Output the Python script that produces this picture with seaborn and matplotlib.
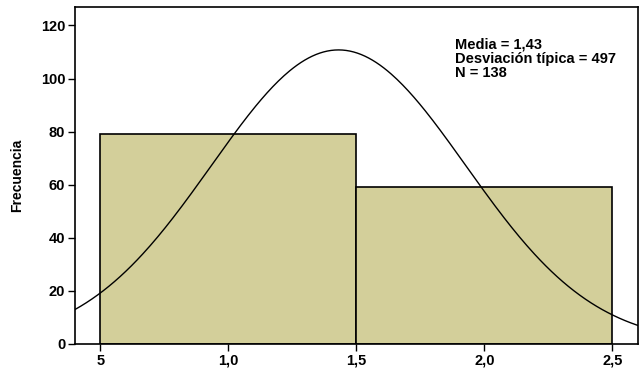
import matplotlib
matplotlib.use("Agg")
import matplotlib.pyplot as plt
import numpy as np
import pandas as pd
import seaborn as sns

# histogram bins
bin_edges = [0.5, 1.5, 2.5]
bin_centers = [1.0, 2.0]
counts = [79, 59]

# summary statistics printed on the chart
media = 1.43
desviacion = 0.497
n_total = 138

x_ticks = [0.5, 1.0, 1.5, 2.0, 2.5]
x_ticklabels = ["5", "1,0", "1,5", "2,0", "2,5"]
y_ticks = [0, 20, 40, 60, 80, 100, 120]

sns.set_style("white")
plt.rcParams["font.family"] = ["Liberation Sans", "DejaVu Sans"]
plt.rcParams["text.color"] = "black"
plt.rcParams["axes.labelcolor"] = "black"
plt.rcParams["xtick.color"] = "black"
plt.rcParams["ytick.color"] = "black"

fig = plt.figure(figsize=(6.4, 3.69), dpi=100)
ax = fig.add_axes([0.117, 0.068, 0.88, 0.912])

df = pd.DataFrame({"valor": bin_centers, "frecuencia": counts})
sns.histplot(data=df, x="valor", weights="frecuencia", bins=bin_edges,
             color="#D3CF9A", alpha=1.0, edgecolor="black", linewidth=1.2, ax=ax)

# normal curve fitted from the printed mean / sd / N
xs = np.linspace(0.4, 2.6, 300)
bin_width = bin_edges[1] - bin_edges[0]
ys = n_total * bin_width * np.exp(-0.5 * ((xs - media) / desviacion) ** 2) / (desviacion * np.sqrt(2 * np.pi))
sns.lineplot(x=xs, y=ys, color="black", linewidth=1.0, ax=ax)

ax.set_xlim(0.4, 2.6)
ax.set_ylim(0, 126.8)
ax.set_xticks(x_ticks)
ax.set_xticklabels(x_ticklabels, fontsize=10.5, fontweight="bold")
ax.set_yticks(y_ticks)
ax.set_yticklabels([str(v) for v in y_ticks], fontsize=10.5, fontweight="bold")
ax.tick_params(axis="both", direction="out", length=5, width=1, color="black",
               labelcolor="black", bottom=True, left=True, pad=2)
ax.set_xlabel("")
ax.set_ylabel("Frecuencia", fontsize=10, fontweight="bold", labelpad=12, color="black")

for sp in ax.spines.values():
    sp.set_color("black")
    sp.set_linewidth(1.2)
    sp.set_visible(True)

ax.text(0.675, 0.91, "Media = 1,43\nDesviación típica = 497\nN = 138",
        transform=ax.transAxes, ha="left", va="top", fontsize=10.5,
        fontweight="bold", linespacing=1.0, color="black")

fig.savefig("out.png", dpi=100)
